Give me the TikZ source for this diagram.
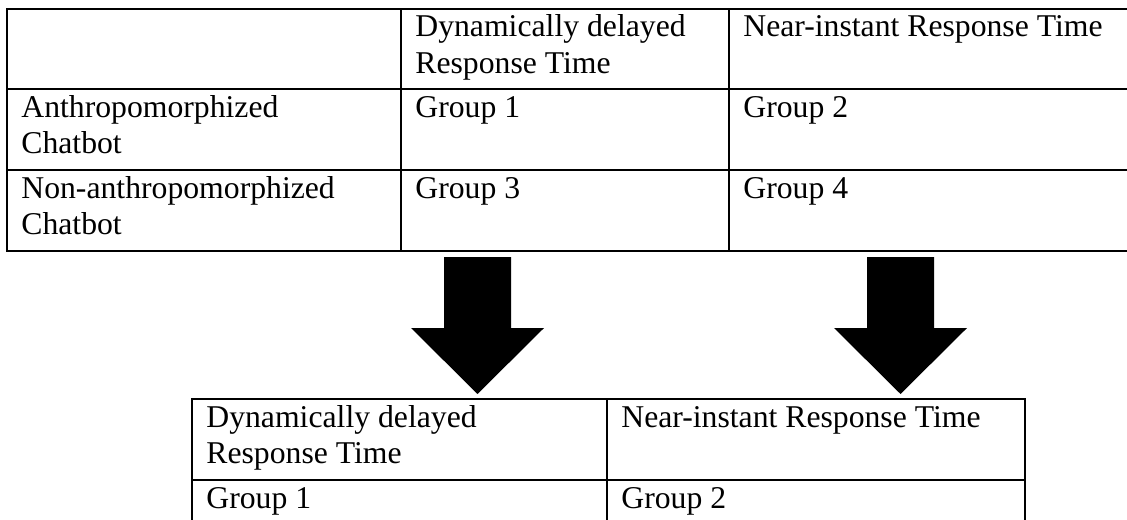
\documentclass[tikz,border=0pt]{standalone}
\usepackage{fontspec}
\setmainfont{Liberation Serif}

\begin{document}
\begin{tikzpicture}[
  x=0.5pt, y=-0.5pt,
  cell/.style={anchor=base west, inner sep=0pt, align=left,
               font=\fontsize{15.85pt}{18.25pt}\selectfont},
  rule/.style={line width=1pt, line cap=rect},
  blockarrow/.style={fill=black}
]
\useasboundingbox (0,0) rectangle (1127,519);

% upper table
\foreach \y in {9,89,170,251}
  \draw[rule] (7,\y) -- (1127,\y);
\foreach \x in {7,401,729}
  \draw[rule] (\x,9) -- (\x,251);

% two-line cells sit on the baseline of their last line
\node[cell] (head1) at (415,73.5) {Dynamically delayed\\Response Time};
\node[cell] (head2) at (743,37) {Near-instant Response Time};
\node[cell] (anthro) at (21,153.5) {Anthropomorphized\\Chatbot};
\node[cell] (grp1) at (415,117) {Group 1};
\node[cell] (grp2) at (743,117) {Group 2};
\node[cell] (nonanthro) at (21,234.5) {Non-anthropomorphized\\Chatbot};
\node[cell] (grp3) at (415,198) {Group 3};
\node[cell] (grp4) at (743,198) {Group 4};

% block arrows
\coordinate (tipL) at (477.5,394);
\coordinate (tipR) at (900.5,394);
\foreach \t in {tipL,tipR}
  \fill[blockarrow] (\t) -- ++(66.5,-66) -- ++(-33,0) -- ++(0,-71) -- ++(-67,0)
    -- ++(0,71) -- ++(-33,0) -- cycle;

% lower table
\foreach \y in {399,480}
  \draw[rule] (192,\y) -- (1025,\y);
\foreach \x in {192,607,1025}
  \draw[rule] (\x,399) -- (\x,519);

\node[cell] (low1) at (206,463.5) {Dynamically delayed\\Response Time};
\node[cell] (low2) at (621,427) {Near-instant Response Time};
\node[cell] (low3) at (206,508) {Group 1};
\node[cell] (low4) at (621,508) {Group 2};
\end{tikzpicture}
\end{document}
